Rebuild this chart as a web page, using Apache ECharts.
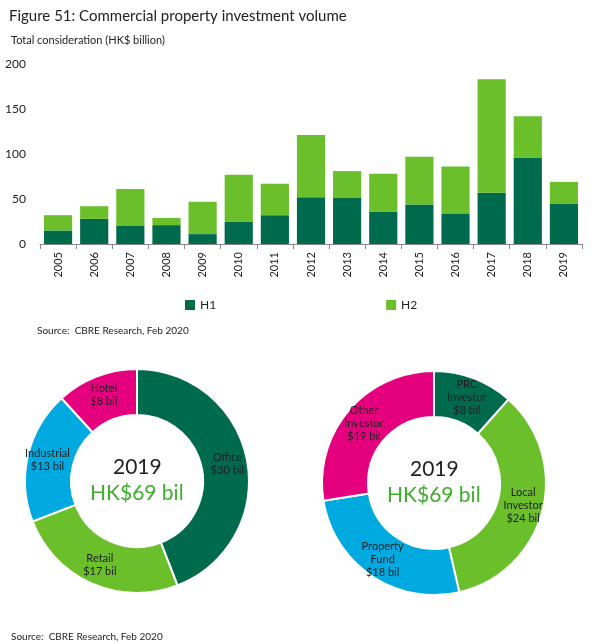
<!DOCTYPE html>
<html>
<head>
<meta charset="utf-8">
<script src="https://cdn.jsdelivr.net/npm/echarts@6/dist/echarts.min.js"></script>
<style>html,body{margin:0;padding:0;background:#fff}#main{width:594px;height:644px}</style>
</head>
<body>
<div id="main"></div>
<script>
// bar chart data
const years = ['2005','2006','2007','2008','2009','2010','2011','2012','2013','2014','2015','2016','2017','2018','2019']
const h1 = [15, 28, 20, 21, 11, 25, 32, 52, 51, 36, 44, 34, 57, 96, 45]
const h2 = [17, 14, 41, 8, 36, 52, 35, 69, 30, 42, 53, 52, 126, 46, 24]
const yTicks = [0, 50, 100, 150, 200]

// donut data
const sectorNames = ['Office\n$30 bil', 'Retail\n$17 bil', 'Industrial\n$13 bil', 'Hotel\n$8 bil']
const sectorValues = [30, 17, 13, 8]
const investorNames = ['PRC\nInvestor\n$8 bil', 'Local\nInvestor\n$24 bil', 'Property\nFund\n$18 bil', 'Other\nInvestor\n$19 bil']
const investorValues = [8, 24, 18, 19]

const darkGreen = '#006a4d'
const lightGreen = '#6abf2a'
const blue = '#00a9e0'
const magenta = '#e5007d'
const font = 'Lato'

let chart = echarts.init(document.getElementById('main'))

function donut(center, names, values) {
    return {
        type: 'pie',
        radius: [66, 112],
        center: center,
        startAngle: 90,
        clockwise: true,
        itemStyle: { borderColor: '#fff', borderWidth: 2 },
        color: [darkGreen, lightGreen, blue, magenta],
        label: {
            position: 'inside',
            color: '#222',
            fontSize: 11,
            fontFamily: font,
            lineHeight: 13
        },
        labelLine: { show: false },
        data: names.map((n, i) => ({ name: n, value: values[i] }))
    }
}

function centerText(x, y) {
    return [
        { type: 'text', left: x - 24, top: y - 24, style: { text: '2019', font: '21px ' + font, fill: '#222' } },
        { type: 'text', left: x - 47, top: y + 2, style: { text: 'HK$69 bil', font: '21px ' + font, fill: '#3dae2b' } }
    ]
}

chart.setOption({
    animation: false,
    textStyle: { fontFamily: font },
    title: [
        { text: 'Figure 51: Commercial property investment volume', left: 4, top: 4,
          textStyle: { fontSize: 15, fontWeight: 'normal', color: '#222', fontFamily: font } },
        { text: 'Total consideration (HK$ billion)', left: 6, top: 30,
          textStyle: { fontSize: 11, fontWeight: 'normal', color: '#222', fontFamily: font } },
        { text: 'Source:  CBRE Research, Feb 2020', left: 32, top: 321,
          textStyle: { fontSize: 10, fontWeight: 'normal', color: '#222', fontFamily: font } },
        { text: 'Source:  CBRE Research, Feb 2020', left: 6, top: 627,
          textStyle: { fontSize: 10, fontWeight: 'normal', color: '#222', fontFamily: font } }
    ],
    legend: {
        top: 294, left: 180, itemGap: 170, itemWidth: 10, itemHeight: 10,
        icon: 'rect',
        textStyle: { fontSize: 12, color: '#222', fontFamily: font },
        data: ['H1', 'H2']
    },
    grid: { left: 40, right: 12, top: 64, bottom: 400 },
    xAxis: {
        type: 'category', data: years,
        axisTick: { show: true, alignWithLabel: false, lineStyle: { color: '#888' } },
        axisLine: { lineStyle: { color: '#888' } },
        axisLabel: { rotate: 90, fontSize: 11, color: '#222' }
    },
    yAxis: {
        type: 'value', min: yTicks[0], max: yTicks[yTicks.length - 1], interval: 50,
        splitLine: { show: false },
        axisLabel: { fontSize: 12, color: '#222', margin: 14 }
    },
    series: [
        { name: 'H1', type: 'bar', stack: 't', data: h1, barWidth: '78%', itemStyle: { color: darkGreen } },
        { name: 'H2', type: 'bar', stack: 't', data: h2, itemStyle: { color: lightGreen } },
        donut([137, 481], sectorNames, sectorValues),
        donut([434, 483], investorNames, investorValues)
    ],
    graphic: centerText(137, 481).concat(centerText(434, 483))
})
</script>
</body>
</html>
